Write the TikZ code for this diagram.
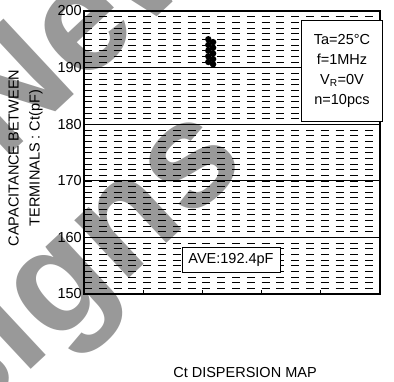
\documentclass[tikz,border=0pt]{standalone}
\usepackage{fontspec}
\setmainfont{Liberation Sans}
\usetikzlibrary{positioning}

\begin{document}
\begin{tikzpicture}[x=1pt, y=1pt,
  every node/.style={font=\fontsize{14.5}{20}\selectfont},
  wmark/.style={text=black!40, font=\fontsize{150}{150}\selectfont\bfseries, rotate=43, anchor=base, inner sep=0pt},
  fine/.style={black, line width=0.6pt, dash pattern=on 8pt off 6.8pt},
  major/.style={black, line width=0.7pt},
  dot/.style={circle, fill=black, inner sep=0pt, minimum size=6.5pt},
  box/.style={draw, fill=white, line width=0.9pt, inner sep=0pt}]
  \useasboundingbox (0,0) rectangle (394,-381);
  % 背景水印
  \node[wmark] (wmA) at (115,-56) {New};
  \node[wmark] (wmB) at (36,-365) {Designs};
  % 数据坐标系
  \begin{scope}[shift={(84,-294)}, x=59.2pt, y=5.66pt]
    \coordinate (O) at (0,0);% 左下角
    \coordinate (TR) at (5,50);% 右上角
    % 每 1pF 一条虚线
    \foreach \y in {1,...,49}
    {
      \draw[fine] (0,\y) -- (5,\y);
    }
    % 每 10pF 一条实线
    \foreach \y in {10,20,30,40}
    {
      \draw[major] (0,\y) -- (5,\y);
    }
    % 横轴刻度
    \foreach \x in {1,...,4}
    {
      \draw[major] (\x,0) -- ++(0,4pt);
    }
    % 测量点
    \foreach \x/\y [count=\i] in {2.10/45, 2.10/44, 2.10/43, 2.10/42, 2.10/41,
                                 2.18/44.5, 2.18/43.5, 2.18/42.5, 2.18/41.5, 2.18/40.6}
    {
      \node[dot] (pt\i) at (\x,\y) {};
    }
    % 外框
    \draw[line width=1.8pt] (O) rectangle (TR);
    % 纵轴数值
    \foreach \v in {150,160,...,200}
    {
      \node[anchor=east, inner sep=0pt] (yl\v) at ([xshift=-2pt]0,\v-150) {\v};
    }
  \end{scope}
  % 纵轴标题
  \node[rotate=90, align=center, font=\fontsize{14.5}{21}\selectfont] (ylab) at (25.5,-158)
    {CAPACITANCE BETWEEN\\TERMINALS : Ct(pF)};
  % 测量条件
  \node[box, minimum width=81pt, minimum height=101pt, align=center] (cond) at (342,-70.5)
    {Ta=25°C\\f=1MHz\\V\textsubscript{R}=0V\\n=10pcs};
  % 平均值
  \node[box, minimum width=98pt, minimum height=25pt] (ave) at (231,-259.5) {AVE:192.4pF};
  % 图名
  \node (title) at (245,-373) {Ct DISPERSION MAP};
\end{tikzpicture}
\end{document}
